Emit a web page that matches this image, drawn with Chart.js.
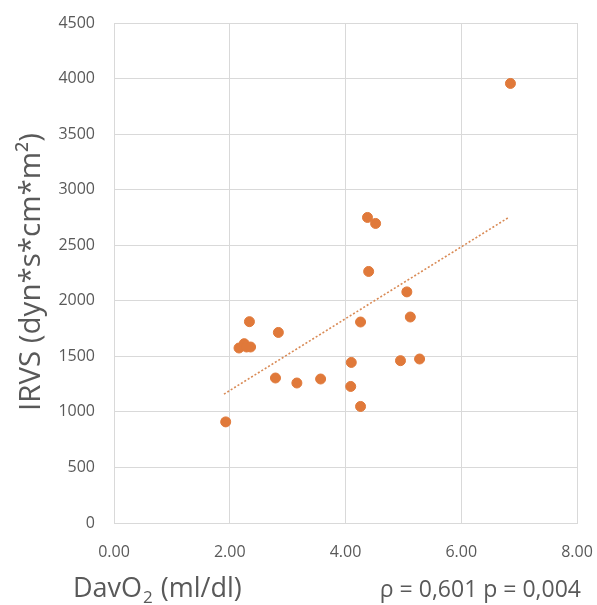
<!DOCTYPE html>
<html>
<head>
<meta charset="utf-8">
<script src="https://cdn.jsdelivr.net/npm/chart.js@4/dist/chart.umd.min.js"></script>
<style>
  html, body { margin: 0; padding: 0; background: #fff; }
  canvas { display: block; }
</style>
</head>
<body>
<canvas id="chart" width="597" height="605"></canvas>
<script>
// DavO2 (ml/dl) vs IRVS
const davo2 = [1.93, 2.16, 2.25, 2.29, 2.36, 2.34, 2.84, 2.79, 3.16, 3.57, 4.10,
               4.09, 4.26, 4.26, 4.95, 5.28, 5.12, 5.06, 4.38, 4.52, 4.40, 6.85];
const irvs  = [910, 1575, 1614, 1584, 1584, 1812, 1715, 1305, 1260, 1296, 1445,
               1229, 1049, 1809, 1461, 1476, 1854, 2080, 2750, 2696, 2264, 3956];

// dotted trend line end points
const trendX = [1.90, 6.82];
const trendY = [1160, 2750];

const xTicks = [0, 2, 4, 6, 8];
const yTicks = [0, 500, 1000, 1500, 2000, 2500, 3000, 3500, 4000, 4500];

const TEXT = '#595959';
const GRID = '#d9d9d9';
const DOT = '#e0793a';
const FONT = '"Open Sans", "Noto Sans", sans-serif';

// axis titles and the correlation note drawn straight on the canvas
const titlesPlugin = {
  id: 'titles',
  afterDraw(chart) {
    const ctx = chart.ctx;
    ctx.save();
    ctx.fillStyle = TEXT;
    ctx.textBaseline = 'alphabetic';

    // y title, rotated
    ctx.save();
    ctx.translate(40, 272);
    ctx.rotate(-Math.PI / 2);
    ctx.textAlign = 'center';
    ctx.font = '29.5px ' + FONT;
    ctx.fillText('IRVS (dyn*s*cm*m²)', 0, 0);
    ctx.restore();

    // x title with subscript 2
    ctx.textAlign = 'left';
    let x = 73;
    const base = 597;
    ctx.font = '27px ' + FONT;
    ctx.fillText('DavO', x, base);
    x += ctx.measureText('DavO').width;
    ctx.font = '17px ' + FONT;
    ctx.fillText('2', x + 1, base + 6);
    x += ctx.measureText('2').width + 2;
    ctx.font = '27px ' + FONT;
    ctx.fillText(' (ml/dl)', x, base);

    ctx.textAlign = 'right';
    ctx.font = '23px ' + FONT;
    ctx.fillText('ρ = 0,601 p = 0,004', 581, base);
    ctx.restore();
  }
};

new Chart(document.getElementById('chart'), {
  type: 'scatter',
  data: {
    datasets: [
      {
        label: 'IRVS',
        data: davo2.map((v, i) => ({ x: v, y: irvs[i] })),
        backgroundColor: DOT,
        borderColor: DOT,
        pointRadius: 5,
        pointHoverRadius: 5,
        order: 1
      },
      {
        label: 'trend',
        type: 'line',
        data: trendX.map((v, i) => ({ x: v, y: trendY[i] })),
        borderColor: '#d98a55',
        borderWidth: 1.6,
        borderDash: [2, 2],
        pointRadius: 0,
        fill: false,
        order: 2
      }
    ]
  },
  options: {
    responsive: false,
    animation: false,
    layout: { padding: { top: 23, right: 20, bottom: 0, left: 0 } },
    plugins: {
      legend: { display: false },
      tooltip: { enabled: false }
    },
    scales: {
      x: {
        type: 'linear',
        min: 0,
        max: 8,
        afterBuildTicks(scale) { scale.ticks = xTicks.map(v => ({ value: v })); },
        afterFit(scale) {
          scale.height = 82;
          scale.paddingLeft = 0;
          scale.paddingRight = 0;
        },
        ticks: {
          color: TEXT,
          font: { family: FONT, size: 16 },
          padding: 20,
          callback: v => v.toFixed(2)
        },
        grid: { color: GRID, drawTicks: false },
        border: { color: GRID }
      },
      y: {
        min: 0,
        max: 4500,
        afterBuildTicks(scale) { scale.ticks = yTicks.map(v => ({ value: v })); },
        afterFit(scale) {
          scale.width = 114;
          scale.paddingTop = 0;
          scale.paddingBottom = 0;
        },
        ticks: {
          color: TEXT,
          font: { family: FONT, size: 16 },
          padding: 19,
          callback: v => String(v)
        },
        grid: { color: GRID, drawTicks: false },
        border: { color: GRID }
      }
    }
  },
  plugins: [titlesPlugin]
});
</script>
</body>
</html>
